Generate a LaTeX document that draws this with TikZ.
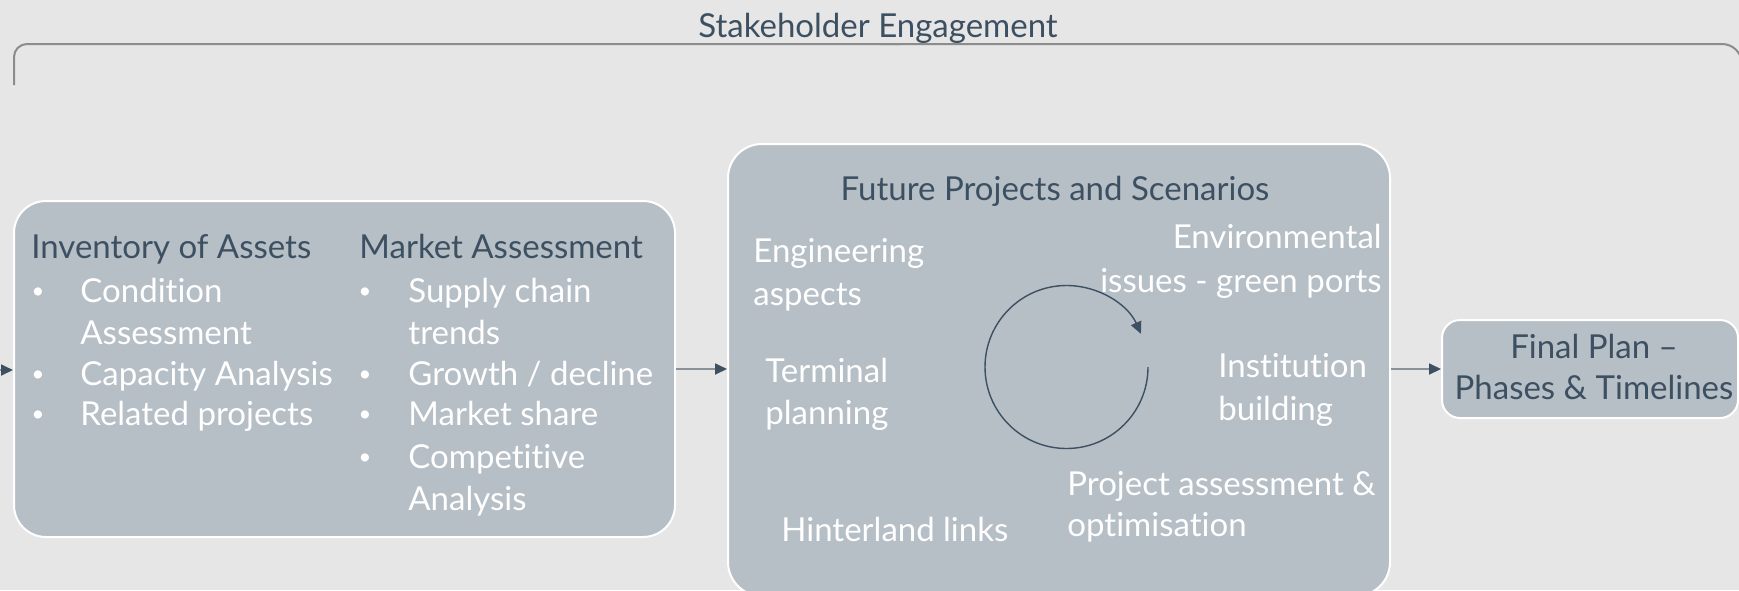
\documentclass[tikz,border=0pt]{standalone}
\usepackage{fontspec}
\setmainfont{Lato}[RawFeature={-liga;-dlig}]
\usetikzlibrary{arrows.meta}
\definecolor{bg}{HTML}{E6E6E6}
\definecolor{boxfill}{HTML}{B6BEC6}
\definecolor{dark}{HTML}{3D5062}
\definecolor{brk}{HTML}{8C8C8C}
\definecolor{arrline}{HTML}{8A9199}
\begin{document}
\begin{tikzpicture}[x=0.5pt,y=-0.5pt,
  panel/.style={fill=boxfill,draw=white,line width=1pt,inner sep=0pt},
  txt/.style={font=\fontsize{16.5}{20}\selectfont,inner sep=0pt,anchor=base west},
  head/.style={txt,text=dark},
  item/.style={txt,text=white},
  dot/.style={font=\fontsize{11}{12}\selectfont,text=white,inner sep=0pt,anchor=base},
  conn/.style={draw=arrline,line width=0.9pt,-{Triangle[length=6pt,width=5.5pt,color=dark]}}
]
\useasboundingbox (0,0) rectangle (1739,590);
\fill[bg] (0,0) rectangle (1739,590);

% bracket
\draw[brk,line width=1pt,rounded corners=6.5pt] (14,85) -- (14,44) -- (900,44);
\draw[brk,line width=1pt,rounded corners=10pt] (880,44) -- (1742,44) -- (1742,120);
\node[head,anchor=base] (title) at (878,37) {Stakeholder Engagement};

% boxes
\node[panel,rounded corners=16pt,minimum width=330.5pt,minimum height=168pt] (box1) at (344.5,369) {};
\node[panel,rounded corners=17pt,minimum width=331pt,minimum height=226pt] (box2) at (1059,370) {};
\node[panel,rounded corners=9pt,minimum width=148pt,minimum height=49pt] (box3) at (1590,369) {};

% connectors
\coordinate (in) at (-2,370);
\draw[conn] (in) -- (in -| box1.west);
\draw[conn] (box1.east) -- (box1.east -| box2.west);
\draw[conn] (box3.west -| box2.east) -- (box3.west);

% box1 text
\node[head] (inv) at (31,258) {Inventory of Assets};
\foreach \y in {302,385,425} \node[dot] at (38,\y-4) {•};
\node[item] (i1) at (80,302) {Condition};
\node[item] (i1b) at (80,344) {Assessment};
\node[item] (i2) at (80,385) {Capacity Analysis};
\node[item] (i3) at (80,425) {Related projects};

\node[head] (mkt) at (359,258) {Market Assessment};
\foreach \y in {302,385,425,468} \node[dot] at (365,\y-4) {•};
\node[item] (m1) at (408,302) {Supply chain};
\node[item] (m1b) at (408,344) {trends};
\node[item] (m2) at (408,385) {Growth / decline};
\node[item] (m3) at (408,425) {Market share};
\node[item] (m4) at (408,468) {Competitive};
\node[item] (m4b) at (408,510) {Analysis};

% box2 text
\node[head,anchor=base] (fut) at (1055,200) {Future Projects and Scenarios};
\node[item] (e1) at (753,262) {Engineering};
\node[item] (e2) at (753,305) {aspects};
\node[item,anchor=base east] (v1) at (1382,248) {Environmental};
\node[item,anchor=base east] (v2) at (1382,292) {issues - green ports};
\node[item] (t1) at (765,382) {Terminal};
\node[item] (t2) at (765,424) {planning};
\node[item] (b1) at (1218,377) {Institution};
\node[item] (b2) at (1218,420) {building};
\node[item] (p1) at (1067,495) {Project assessment \&};
\node[item] (p2) at (1067,536) {optimisation};
\node[item] (h1) at (781,541) {Hinterland links};

% cycle
\draw[dark,line width=0.7pt,-{Triangle[length=6pt,width=5.5pt]}] (1148,367) arc[start angle=0,end angle=336,radius=81.5];

% box3 text
\node[head,anchor=base] (f1) at (1594,358) {Final Plan –};
\node[head,anchor=base] (f2) at (1594,399) {Phases \& Timelines};
\end{tikzpicture}
\end{document}
